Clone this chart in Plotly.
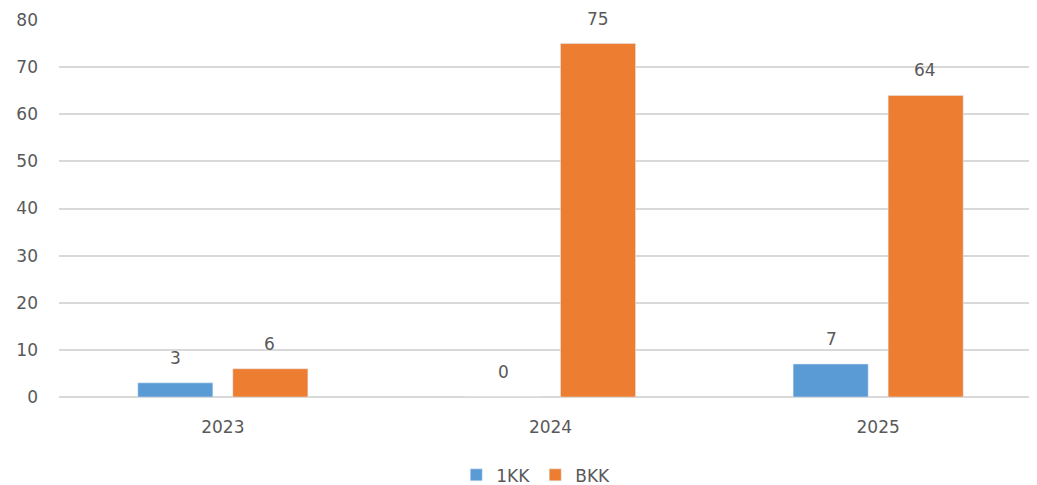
import plotly.graph_objects as go

years = ["2023", "2024", "2025"]
kk1 = [3, 0, 7]
bkk = [6, 75, 64]
y_ticks = [0, 10, 20, 30, 40, 50, 60, 70, 80]

font_color = "#595959"
font_family = "DejaVu Sans, Open Sans, sans-serif"
fig = go.Figure()
fig.add_trace(go.Bar(name="1KK", x=years, y=kk1, marker_color="#5B9BD5"))
fig.add_trace(go.Bar(name="BKK", x=years, y=bkk, marker_color="#ED7D31"))

# data labels placed at each bar's value (category index on the category axis)
for vals, shift in ((kk1, -47), (bkk, 47)):
    for i, v in enumerate(vals):
        fig.add_annotation(x=i, y=v, xref="x", yref="y", text=str(v), showarrow=False,
                           yanchor="bottom", yshift=13, xshift=shift,
                           font=dict(size=17, color=font_color, family=font_family))

fig.update_layout(
    width=1038, height=477,
    margin=dict(l=51, r=4, t=12, b=88, autoexpand=False),
    paper_bgcolor="white", plot_bgcolor="white",
    font=dict(family=font_family, size=17, color=font_color),
    barmode="group", bargap=0.42, bargroupgap=0.21,
    showlegend=True,
    legend=dict(orientation="h", x=0.485, xanchor="center", y=-0.16, yanchor="top",
                font=dict(size=17, color=font_color), itemwidth=30),
    xaxis=dict(type="category", showgrid=False, showline=False, ticks="",
               tickfont=dict(size=17), ticklabelstandoff=18, automargin=False),
    yaxis=dict(range=[0, 80], tickvals=y_ticks, showgrid=True, gridcolor="#D9D9D9",
               gridwidth=2, zeroline=True, zerolinecolor="#D9D9D9", zerolinewidth=2,
               showline=False, ticks="", tickfont=dict(size=17), ticklabelstandoff=20,
               automargin=False),
)
fig.write_html("out.html")
